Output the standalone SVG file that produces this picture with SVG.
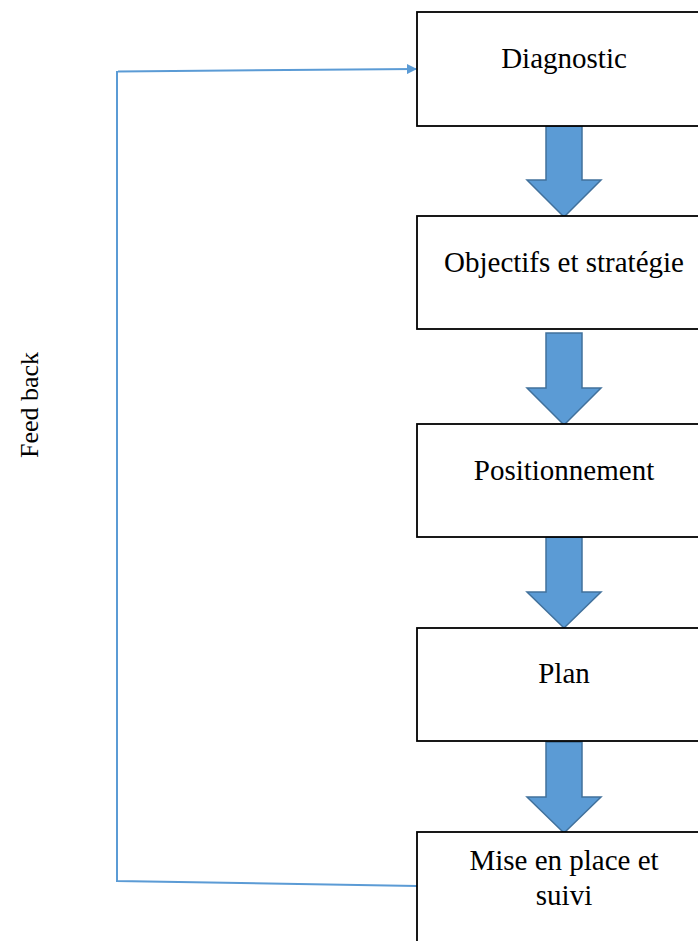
<svg xmlns="http://www.w3.org/2000/svg" width="698" height="941" viewBox="0 0 698 941">
<style>
.box{fill:#fff;stroke:#000;stroke-width:1.8}
.big{fill:#5B9BD5;stroke:#41719C;stroke-width:1.5;stroke-linejoin:miter}
.fb{fill:none;stroke:#5B9BD5;stroke-width:2}
</style>
<defs>
<marker id="ah" viewBox="0 0 10 10" refX="9" refY="5" markerWidth="5" markerHeight="5" orient="auto" markerUnits="strokeWidth">
<path d="M0,0 L10,5 L0,10 z" fill="#5B9BD5"/>
</marker>
</defs>
<rect width="698" height="941" fill="#fff"/>
<g id="connectors">
<path class="big" d="M546,126 H582 V180 H601 L564,217 L527,180 H546 Z"/>
<path class="big" d="M546,333 H582 V388 H601 L564,425 L527,388 H546 Z"/>
<path class="big" d="M546,537 H582 V592 H601 L564,628 L527,592 H546 Z"/>
<path class="big" d="M546,742 H582 V797 H601 L564,833 L527,797 H546 Z"/>
<polyline class="fb" points="417,886 117,881 117,71"/>
<line class="fb" x1="118" y1="71.5" x2="416" y2="69" marker-end="url(#ah)"/>
</g>
<g font-family="Liberation Serif, serif" font-size="29" text-anchor="middle" fill="#000">
<g id="n1"><rect class="box" x="417" y="12" width="300" height="114"/><text x="564" y="68">Diagnostic</text></g>
<g id="n2"><rect class="box" x="417" y="216" width="300" height="113"/><text x="564" y="272">Objectifs et stratégie</text></g>
<g id="n3"><rect class="box" x="417" y="424" width="300" height="113"/><text x="564" y="480">Positionnement</text></g>
<g id="n4"><rect class="box" x="417" y="628" width="300" height="113"/><text x="564" y="683">Plan</text></g>
<g id="n5"><rect class="box" x="417" y="832" width="300" height="130"/><text x="564" y="870">Mise en place et</text><text x="564" y="905">suivi</text></g>
<g id="feedback"><text font-size="26" transform="translate(38,405) rotate(-90)">Feed back</text></g>
</g>
</svg>
